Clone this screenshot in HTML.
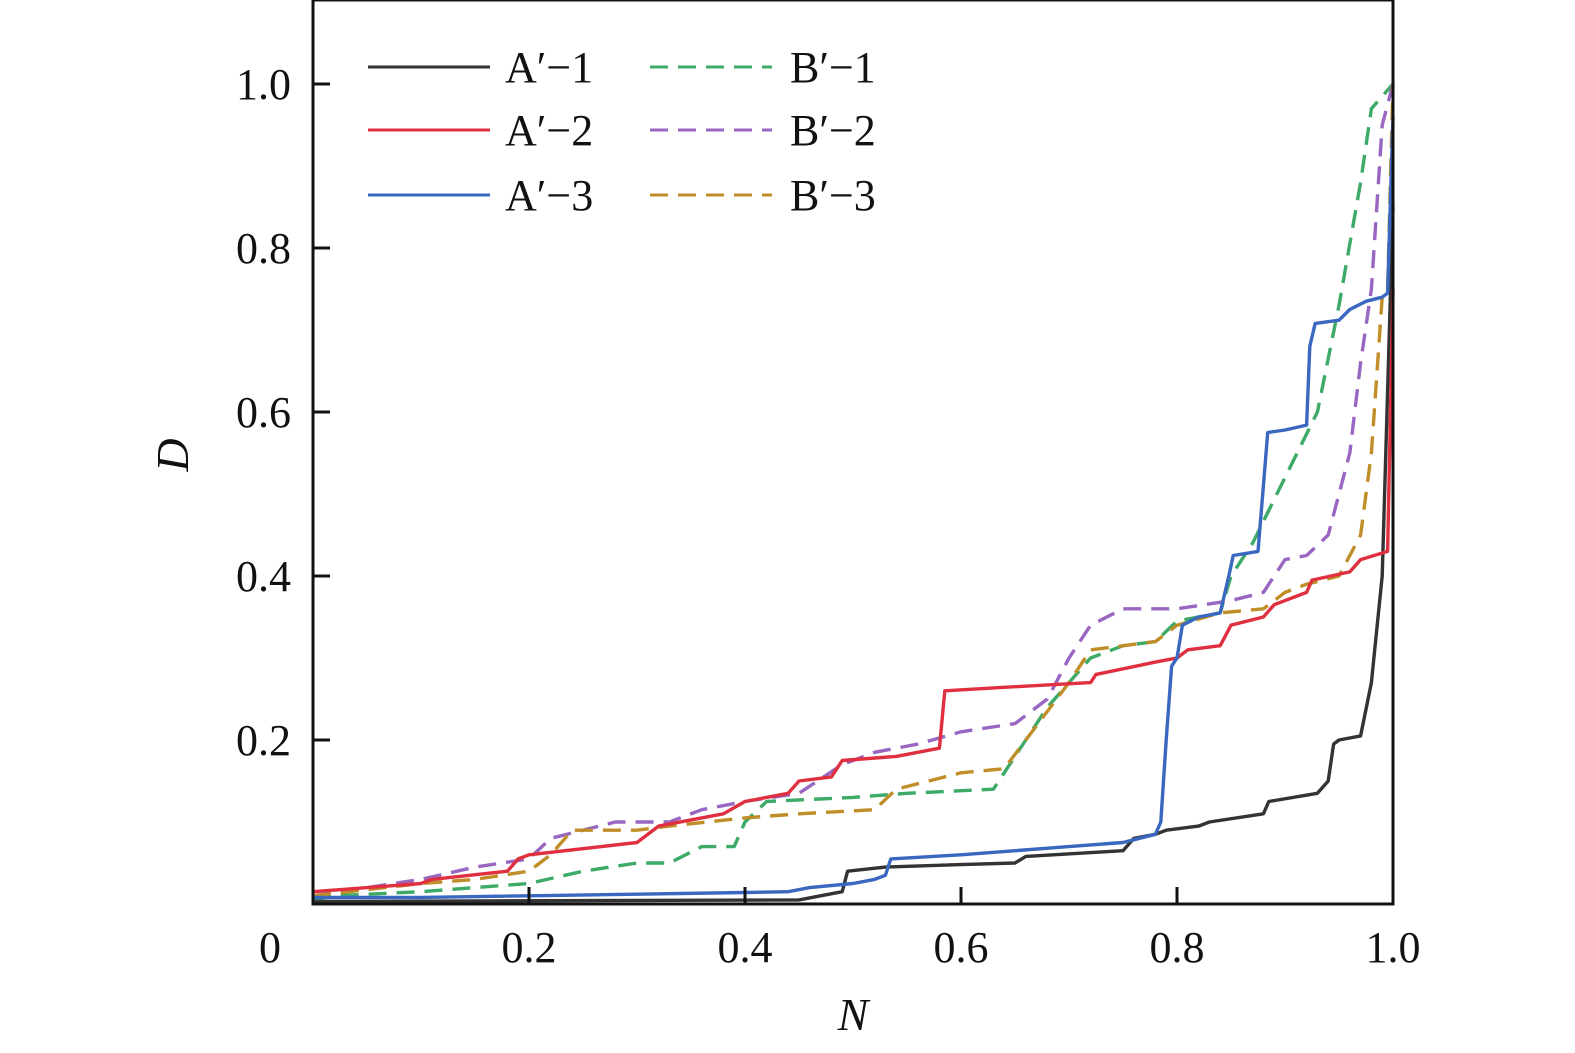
<!DOCTYPE html>
<html><head><meta charset="utf-8"><style>
html,body{margin:0;padding:0;background:#fff;overflow:hidden;}
svg{display:block;}
text{font-family:"Liberation Serif","Times New Roman",serif;}
</style></head><body>
<svg id="chart" width="1575" height="1053" viewBox="0 0 1575 1053" xmlns="http://www.w3.org/2000/svg" font-family="Liberation Serif, serif">
<g id="series"></g>
<g id="axes"></g>
<g id="legend"></g>
</svg>
<script>
const xTicks=[0.2,0.4,0.6,0.8];
const xTickLabels=["0","0.2","0.4","0.6","0.8","1.0"];
const xLabelVals=[0,0.2,0.4,0.6,0.8,1.0];
const yTicks=[0.2,0.4,0.6,0.8,1.0];
const yTickLabels=["0.2","0.4","0.6","0.8","1.0"];
const seriesNames=["A′−1","A′−2","A′−3","B′−1","B′−2","B′−3"];
const a1N=[0,0.45,0.47,0.49,0.495,0.53,0.6,0.65,0.66,0.75,0.76,0.78,0.79,0.82,0.83,0.88,0.885,0.93,0.94,0.945,0.95,0.97,0.98,0.99,1.0];
const a1D=[0.003,0.005,0.01,0.015,0.04,0.045,0.048,0.05,0.058,0.065,0.08,0.085,0.09,0.095,0.1,0.11,0.125,0.135,0.15,0.195,0.2,0.205,0.27,0.4,0.85];
const a2N=[0,0.1,0.11,0.18,0.19,0.2,0.3,0.32,0.38,0.4,0.44,0.45,0.48,0.49,0.54,0.58,0.585,0.65,0.72,0.725,0.78,0.8,0.81,0.84,0.85,0.88,0.89,0.92,0.925,0.96,0.97,0.995,1.0];
const a2D=[0.015,0.025,0.03,0.04,0.055,0.06,0.075,0.095,0.11,0.125,0.135,0.15,0.155,0.175,0.18,0.19,0.26,0.265,0.27,0.28,0.295,0.3,0.31,0.315,0.34,0.35,0.365,0.38,0.395,0.405,0.42,0.43,0.75];
const a3N=[0,0.1,0.2,0.3,0.4,0.44,0.46,0.5,0.52,0.53,0.535,0.6,0.7,0.75,0.78,0.785,0.79,0.795,0.8,0.805,0.82,0.84,0.848,0.852,0.875,0.88,0.884,0.9,0.92,0.923,0.928,0.95,0.96,0.975,0.99,0.995,1.0];
const a3D=[0.008,0.008,0.01,0.012,0.014,0.015,0.02,0.025,0.03,0.035,0.055,0.06,0.07,0.075,0.085,0.1,0.2,0.29,0.3,0.34,0.35,0.355,0.4,0.425,0.43,0.51,0.575,0.578,0.584,0.68,0.708,0.712,0.725,0.735,0.74,0.745,0.96];
const b1N=[0,0.02,0.1,0.2,0.25,0.3,0.33,0.36,0.39,0.4,0.42,0.5,0.55,0.63,0.66,0.68,0.7,0.72,0.75,0.78,0.8,0.84,0.85,0.87,0.9,0.93,0.95,0.97,0.98,1.0];
const b1D=[0.005,0.01,0.015,0.025,0.04,0.05,0.05,0.07,0.07,0.1,0.125,0.13,0.135,0.14,0.2,0.24,0.27,0.3,0.315,0.32,0.345,0.355,0.4,0.44,0.52,0.6,0.73,0.88,0.97,1.0];
const b2N=[0,0.05,0.1,0.15,0.2,0.22,0.25,0.28,0.33,0.36,0.4,0.45,0.49,0.52,0.56,0.6,0.65,0.68,0.7,0.72,0.75,0.8,0.85,0.88,0.9,0.92,0.94,0.96,0.97,0.98,0.99,1.0];
const b2D=[0.01,0.02,0.03,0.045,0.055,0.08,0.09,0.1,0.1,0.115,0.125,0.135,0.17,0.185,0.195,0.21,0.22,0.25,0.3,0.34,0.36,0.36,0.37,0.38,0.42,0.425,0.45,0.55,0.66,0.75,0.95,1.0];
const b3N=[0,0.1,0.15,0.2,0.22,0.24,0.3,0.33,0.4,0.45,0.52,0.54,0.6,0.64,0.66,0.7,0.72,0.78,0.8,0.84,0.88,0.9,0.92,0.95,0.97,0.98,0.99,0.995,1.0];
const b3D=[0.01,0.025,0.03,0.04,0.06,0.09,0.09,0.095,0.105,0.11,0.115,0.14,0.16,0.165,0.2,0.27,0.31,0.32,0.34,0.355,0.36,0.38,0.39,0.4,0.45,0.55,0.74,0.75,1.0];

const X0=313,X1=1393,Y0=904,YS=820;
const FF="Liberation Serif, serif";
const sx=n=>X0+n*(X1-X0);
const sy=d=>Y0-d*YS;
const NS="http://www.w3.org/2000/svg";
const mk=(t,a)=>{const e=document.createElementNS(NS,t);for(const k in a)e.setAttribute(k,a[k]);return e;};
const colors=["#333333","#e03040","#3a68c0","#3daa68","#9966c2","#c08e28"];
const dashed=[false,false,false,true,true,true];
const allN=[a1N,a2N,a3N,b1N,b2N,b3N],allD=[a1D,a2D,a3D,b1D,b2D,b3D];
const keys=["a1","a2","a3","b1","b2","b3"];
const sg=document.getElementById("series");
[3,4,5,0,1,2].forEach(i=>{
  const pts=allN[i].map((n,j)=>sx(n).toFixed(1)+","+sy(allD[i][j]).toFixed(1)).join(" ");
  const p=mk("polyline",{points:pts,fill:"none",stroke:colors[i],"stroke-width":3.4,"stroke-linejoin":"round"});
  if(dashed[i])p.setAttribute("stroke-dasharray","18,10");
  
  
  sg.appendChild(p);
});
const ax=document.getElementById("axes");
const frame=mk("rect",{x:X0,y:0,width:X1-X0,height:Y0,fill:"none",stroke:"#111","stroke-width":3});


ax.appendChild(frame);
xTicks.forEach(v=>{
  const t=mk("line",{x1:sx(v),x2:sx(v),y1:Y0,y2:Y0-17,stroke:"#111","stroke-width":3});
  
  
  ax.appendChild(t);
});
xLabelVals.forEach((v,i)=>{
  const t=mk("text",{x:sx(v)-(i==0?43:0),y:962,"font-size":44,"font-family":FF,"text-anchor":"middle",fill:"#111"});
  t.textContent=xTickLabels[i];
  
  
  ax.appendChild(t);
});
yTicks.forEach((v,i)=>{
  const t=mk("line",{x1:X0,x2:X0+17,y1:sy(v),y2:sy(v),stroke:"#111","stroke-width":3});
  
  
  ax.appendChild(t);
  const l=mk("text",{x:291,y:sy(v)+15,"font-size":44,"font-family":FF,"text-anchor":"end",fill:"#111"});
  l.textContent=yTickLabels[i];
  
  
  ax.appendChild(l);
});
const xt=mk("text",{x:853,y:1030,"font-size":46,"font-family":FF,"font-style":"italic","text-anchor":"middle",fill:"#111"});
xt.textContent="N";


ax.appendChild(xt);
const yt=mk("text",{x:0,y:0,"font-size":46,"font-family":FF,"font-style":"italic","text-anchor":"middle",fill:"#111",transform:"translate(188,455) rotate(-90)"});
yt.textContent="D";


ax.appendChild(yt);
const lg=document.getElementById("legend");
const lx=[368,368,368,650,650,650],ly=[67,130,195,67,130,195];
for(let i=0;i<6;i++){
  const l=mk("line",{x1:lx[i],x2:lx[i]+122,y1:ly[i],y2:ly[i],stroke:colors[i],"stroke-width":3});
  if(dashed[i])l.setAttribute("stroke-dasharray","18,10");
  
  
  lg.appendChild(l);
  const t=mk("text",{x:lx[i]+(i<3?137:140),y:ly[i]+15,"font-size":44,"font-family":FF,fill:"#111"});
  t.textContent=seriesNames[i];
  
  
  lg.appendChild(t);
}
</script>
</body></html>
